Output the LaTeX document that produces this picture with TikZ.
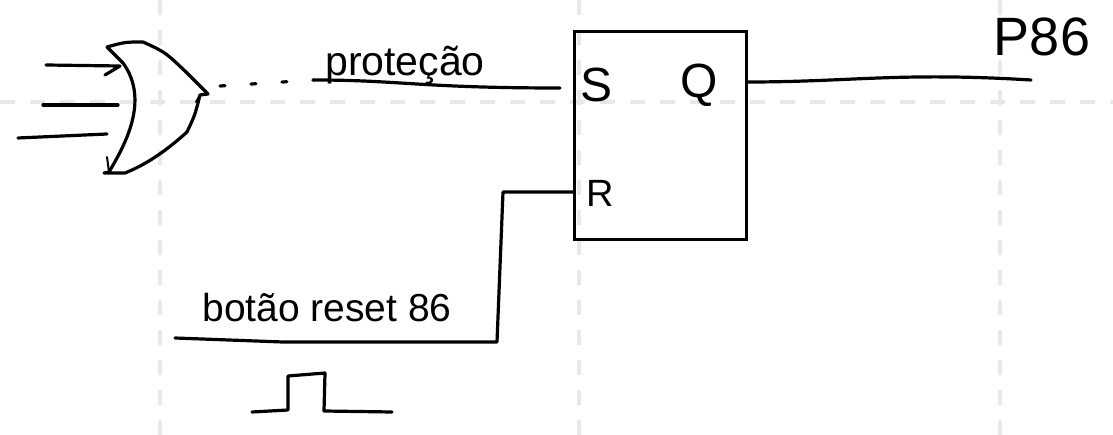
\documentclass[tikz,border=0pt]{standalone}
\usepackage{fontspec}
\setmainfont{Liberation Sans}
\usetikzlibrary{positioning}

\begin{document}
\begin{tikzpicture}[x=1pt, y=-1pt]
        \tikzset{
            wire/.style={line width=3.2pt, line cap=round, line join=round},
            guide/.style={line width=4pt, draw=black!9, dash pattern=on 15pt off 15pt},
            pin/.style={inner sep=0pt, font=\fontsize{48}{48}\selectfont},
            tag/.style={inner sep=0pt, anchor=base}
        }
        \useasboundingbox (0,0) rectangle (1113,435);

        \foreach \gx in {160,579,1000}
            \draw[guide] (\gx,0) -- (\gx,435);
        \draw[guide] (0,102) -- (1113,102);

        % flip-flop
        \node (ff) [draw, line width=3.2pt, minimum width=172pt, minimum height=208pt, anchor=north west] at (573,30) {};
        \node (s) [pin] at (596,85) {S};
        \node (q) [pin] at (699,85) {Q};
        \node (r) [pin, font=\fontsize{38}{38}\selectfont] at (600,193) {R};

        % or gate
        \draw[wire] (107,47) .. controls (125,42) .. (143,42) .. controls (165,52) .. (186,72) -- (208,94) -- (200,95)
            .. controls (195,115) .. (187,132) .. controls (165,152) and (145,165) .. (125,173) -- (104,173) -- (109,172)
            .. controls (125,145) and (150,100) .. (123,63) -- (107,47);
        \draw[wire, line width=2pt] (109,172) -- (107,157);
        \draw[wire, line width=2pt] (200,95) -- (196,102);
        \coordinate (or1) at (120,66);
        \coordinate (or2) at (118,105);
        \coordinate (or3) at (107,134);
        \coordinate (in1) at (46,65);
        \coordinate (in2) at (43,105);
        \coordinate (in3) at (18,138);
        \coordinate (orout) at (220,86);
        \draw[wire] (in1) -- (or1) -- (105,75);
        \draw[wire] (in2) -- (or2);
        \draw[wire] (in3) -- (or3);

        % protection line
        \coordinate (gap) at (314,80);
        \coordinate (send) at (560,88);
        \draw[wire, dash pattern=on 5pt off 26pt] (orout) -- (gap);
        \draw[wire] (gap) .. controls (400,80) and (420,88) .. (send);
        \node (prot) [tag, font=\fontsize{41}{41}\selectfont] at (405,76) {proteção};

        % output
        \coordinate (qout) at (748,82);
        \coordinate (qend) at (1031,80);
        \draw[wire] (qout) .. controls (850,82) and (900,72) .. (qend);
        \node (p86) [inner sep=0pt, font=\fontsize{54}{54}\selectfont] at (1042,37) {P86};

        % reset line
        \coordinate (rin) at (573,192);
        \coordinate (rleft) at (503,192);
        \coordinate (rlow) at (497,342);
        \coordinate (rstart) at (175,338);
        \draw[wire] (rin) -- (rleft) -- (rlow) -- (283,342) -- (rstart);
        \node (reset) [tag, font=\fontsize{39}{39}\selectfont] at (327,322) {botão reset 86};

        % pulse
        \coordinate (pstart) at (252,412);
        \coordinate (pend) at (392,412);
        \draw[wire] (pstart) -- (288,410) -- (288,376) -- (325,373) -- (324,411) -- (pend);
\end{tikzpicture}
\end{document}
